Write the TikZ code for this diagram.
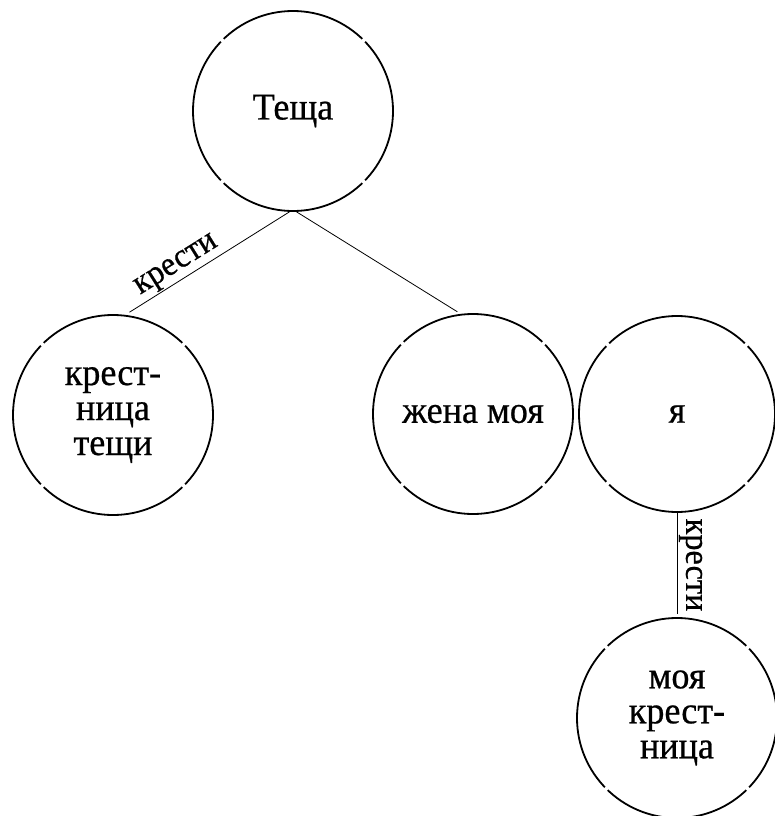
\documentclass[tikz,border=0pt]{standalone}
\usepackage{fontspec}
\setmainfont{Liberation Serif}[FakeBold=0.6, FakeStretch=0.95]
\begin{document}
\begin{tikzpicture}[x=1pt,y=-1pt,
  person/.style={circle, draw, line width=1.8pt, minimum size=200pt, inner sep=0pt,
    align=center, font=\fontsize{38}{35}\selectfont,
    dash pattern=on 153.08pt off 4pt, dash phase=76.54pt},
  personsmall/.style={person, minimum size=196pt,
    dash pattern=on 149.94pt off 4pt, dash phase=74.97pt},
  conn/.style={line width=0.8pt},
  lbl/.style={font=\fontsize{34}{34}\selectfont, inner sep=1.5pt}]
\useasboundingbox (0,0) rectangle (774,816);
\node[person] (t) at (293,111) {Теща};
\node[person] (k) at (113,415) {крест-\\ница\\тещи};
\node[person] (z) at (473,414) {жена моя};
\node[personsmall] (y) at (677,414) {я};
\node[person] (m) at (677,718) {моя\\крест-\\ница};
\draw[conn, shorten >=5pt] (t.268) -- node[lbl, pos=0.64, above, sloped] {крести} (k.83);
\draw[conn, shorten >=4pt] (t.272) -- (z.97);
\draw[conn, shorten >=3pt] (y.south) -- node[lbl, midway, above, sloped] {крести} (m.north);
\end{tikzpicture}
\end{document}
